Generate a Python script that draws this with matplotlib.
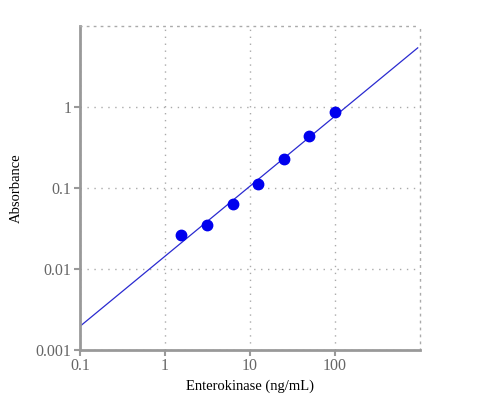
import numpy as np
import matplotlib.pyplot as plt

# standard curve data
conc = np.array([1.5625, 3.125, 6.25, 12.5, 25., 50., 100.])
absorb = np.array([0.026, 0.035, 0.0635, 0.111, 0.226, 0.435, 0.85])

xticks = [0.1, 1, 10, 100]
xticklabels = ['0.1', '1', '10', '100']
yticks = [0.001, 0.01, 0.1, 1]
yticklabels = ['0.001', '0.01', '0.1', '1']

plt.rcParams['font.family'] = ['Liberation Serif', 'DejaVu Serif']

fig = plt.figure(figsize=(5, 4), dpi=100)
ax = fig.add_axes([0.16, 0.125, 0.68, 0.811])

# power-law fit in log space
b, a = np.polyfit(np.log10(conc), np.log10(absorb), 1)
xf = np.logspace(-1, np.log10(940), 200)
yf = 10 ** a * xf ** b

ax.plot(xf, yf, color='#2a2ad0', linewidth=0.9, zorder=2)
ax.plot(conc, absorb, 'o', color='#0000ee', markersize=7.5, zorder=3)

ax.set_xscale('log')
ax.set_yscale('log')
ax.set_xlim(0.1, 1000)
ax.set_ylim(0.001, 10)

ax.set_xticks(xticks)
ax.set_xticklabels(xticklabels)
ax.set_yticks(yticks)
ax.set_yticklabels(yticklabels)
ax.minorticks_off()

ax.grid(True, which='major', linestyle=(0, (1, 4)), color='#aaaaaa', linewidth=1)
for s in ['top', 'right']:
    ax.spines[s].set_linestyle((0, (1, 4)))
    ax.spines[s].set_color('#aaaaaa')
    ax.spines[s].set_linewidth(1)
for s in ['left', 'bottom']:
    ax.spines[s].set_color('#999999')
    ax.spines[s].set_linewidth(2)

ax.tick_params(axis='both', direction='out', length=4, width=1.5, color='#999999',
               labelcolor='#666666', labelsize=11.5, pad=2)

ax.set_xlabel('Enterokinase (ng/mL)', fontsize=10.5, labelpad=4)
ax.set_ylabel('Absorbance', fontsize=10.5, labelpad=9)

plt.savefig('out.png', dpi=100)
